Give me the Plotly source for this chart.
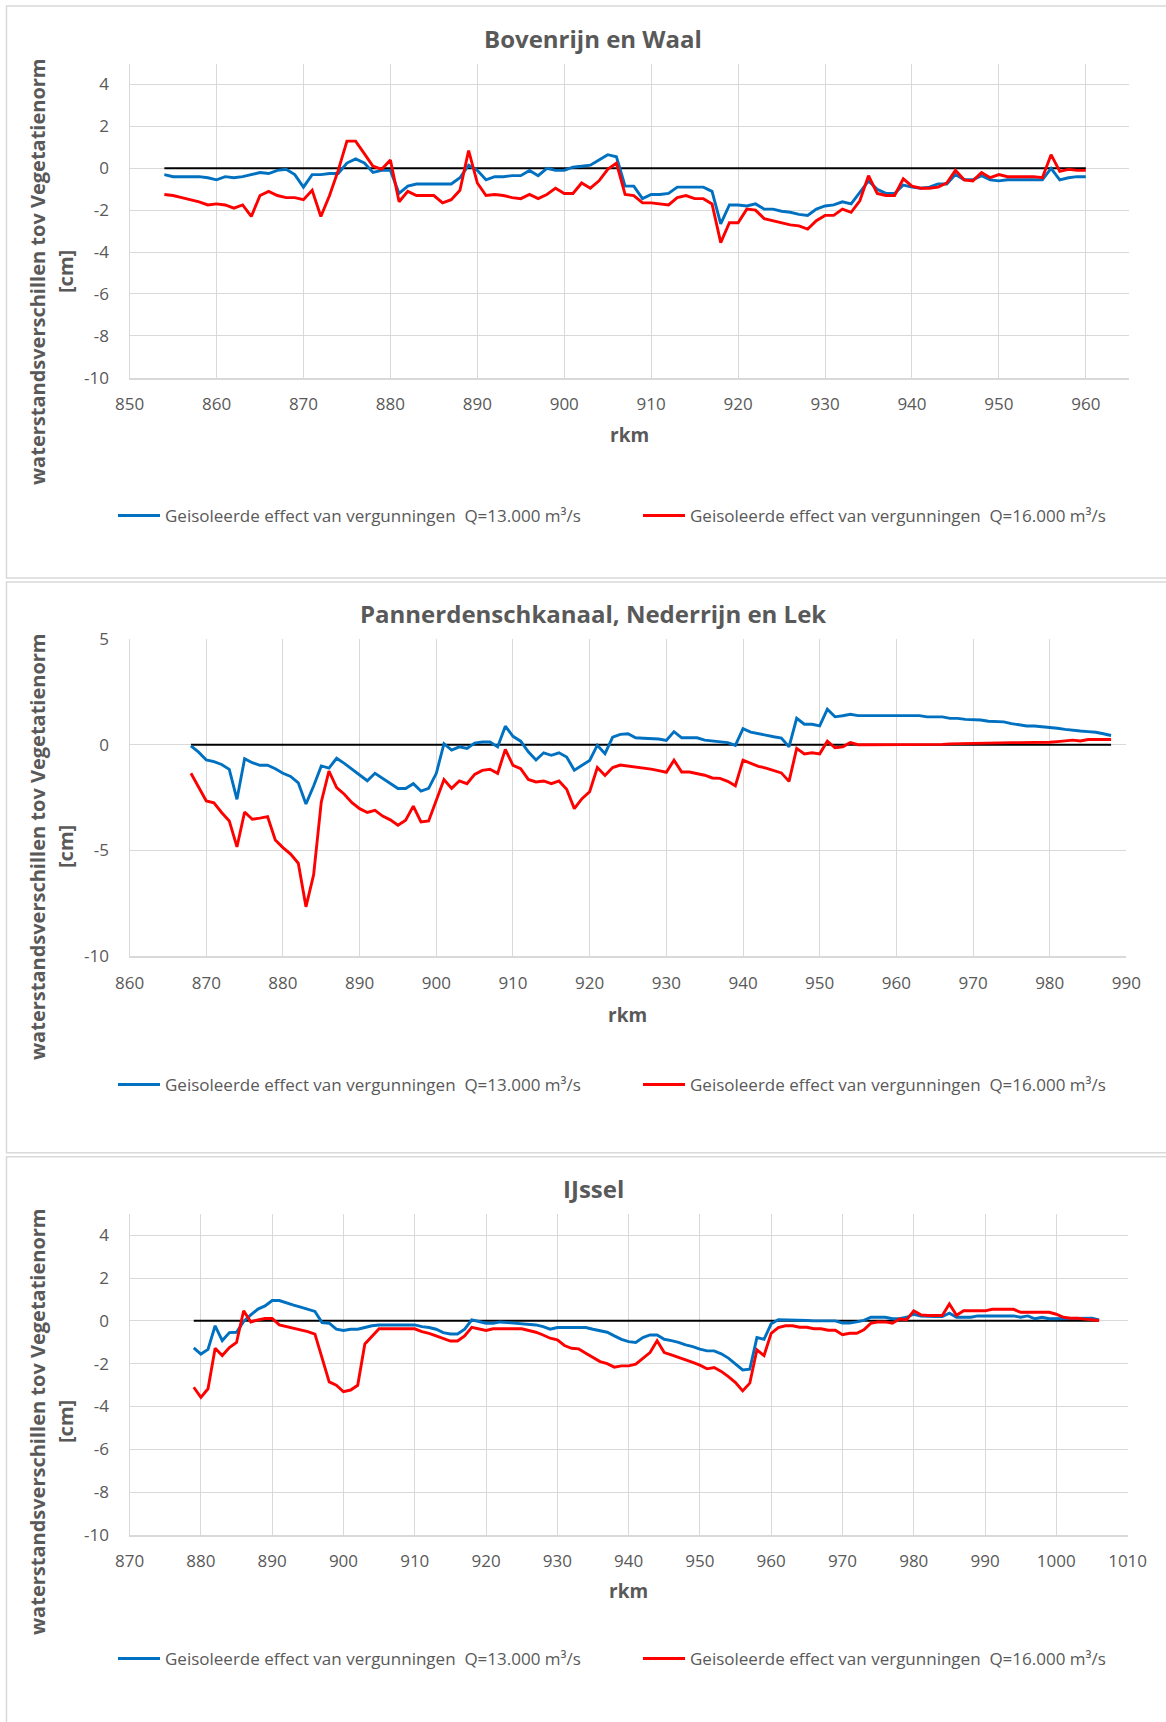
import plotly.graph_objects as go

W, H = 1166, 1722

# ---- data ----
# Bovenrijn en Waal, rkm 854..960
km_waal = list(range(854, 961))
waal_q13 = [
    -0.3, -0.4, -0.4, -0.4, -0.4, -0.45,                               # 854-859
    -0.55, -0.4, -0.45, -0.4, -0.3, -0.2, -0.25, -0.1, -0.05, -0.3,    # 860-869
    -0.9, -0.3, -0.3, -0.25, -0.25, 0.25, 0.45, 0.25, -0.2, -0.1,      # 870-879
    -0.1, -1.2, -0.85, -0.75, -0.75, -0.75, -0.75, -0.75, -0.45, 0.15, # 880-889
    -0.1, -0.55, -0.4, -0.4, -0.35, -0.35, -0.1, -0.35, 0.0, -0.1,     # 890-899
    -0.1, 0.05, 0.1, 0.15, 0.4, 0.65, 0.55, -0.85, -0.85, -1.45,       # 900-909
    -1.25, -1.25, -1.2, -0.9, -0.9, -0.9, -0.9, -1.1, -2.65, -1.75,    # 910-919
    -1.75, -1.8, -1.7, -1.95, -1.95, -2.05, -2.1, -2.2, -2.25, -1.95,  # 920-929
    -1.8, -1.75, -1.6, -1.7, -1.15, -0.6, -1.0, -1.2, -1.2, -0.8,      # 930-939
    -0.9, -0.95, -0.9, -0.75, -0.75, -0.3, -0.55, -0.55, -0.35, -0.55, # 940-949
    -0.6, -0.55, -0.55, -0.55, -0.55, -0.55, 0.0, -0.55, -0.45, -0.4,  # 950-959
    -0.4,                                                              # 960
]
waal_q16 = [
    -1.25, -1.3, -1.4, -1.5, -1.6, -1.75,                              # 854-859
    -1.7, -1.75, -1.9, -1.75, -2.3, -1.3, -1.1, -1.3, -1.4, -1.4,      # 860-869
    -1.5, -1.05, -2.3, -1.3, -0.1, 1.3, 1.3, 0.7, 0.1, -0.05,          # 870-879
    0.4, -1.6, -1.1, -1.3, -1.3, -1.3, -1.65, -1.5, -1.05, 0.85,       # 880-889
    -0.7, -1.3, -1.25, -1.3, -1.4, -1.45, -1.25, -1.45, -1.25, -0.95,  # 890-899
    -1.2, -1.2, -0.7, -0.95, -0.6, -0.05, 0.25, -1.25, -1.3, -1.65,    # 900-909
    -1.65, -1.7, -1.75, -1.4, -1.3, -1.45, -1.45, -1.7, -3.55, -2.6,   # 910-919
    -2.6, -1.95, -2.0, -2.4, -2.5, -2.6, -2.7, -2.75, -2.9, -2.5,      # 920-929
    -2.25, -2.25, -1.95, -2.1, -1.55, -0.35, -1.2, -1.3, -1.3, -0.5,   # 930-939
    -0.85, -0.95, -0.95, -0.9, -0.7, -0.1, -0.55, -0.6, -0.2, -0.45,   # 940-949
    -0.3, -0.4, -0.4, -0.4, -0.4, -0.45, 0.65, -0.15, -0.05, -0.1,     # 950-959
    -0.1,                                                              # 960
]

# Pannerdenschkanaal, Nederrijn en Lek, rkm 868..988
km_lek = list(range(868, 989))
lek_q13 = [
    -0.05, -0.35,                                                      # 868-869
    -0.72, -0.8, -0.93, -1.16, -2.58, -0.66, -0.85, -0.97, -0.97, -1.13,  # 870-879
    -1.35, -1.5, -1.8, -2.8, -1.95, -1.0, -1.1, -0.64, -0.88, -1.16,   # 880-889
    -1.45, -1.7, -1.35, -1.6, -1.84, -2.07, -2.07, -1.84, -2.19, -2.06,  # 890-899
    -1.35, 0.05, -0.25, -0.1, -0.17, 0.08, 0.13, 0.13, -0.1, 0.88,     # 900-909
    0.4, 0.17, -0.33, -0.72, -0.38, -0.5, -0.38, -0.58, -1.2, -0.97,   # 910-919
    -0.74, -0.02, -0.42, 0.36, 0.49, 0.52, 0.33, 0.31, 0.3, 0.27,      # 920-929
    0.2, 0.62, 0.33, 0.33, 0.33, 0.22, 0.17, 0.14, 0.1, -0.03,         # 930-939
    0.76, 0.6, 0.52, 0.44, 0.38, 0.32, -0.1, 1.25, 0.97, 0.97,         # 940-949
    0.89, 1.68, 1.32, 1.37, 1.44, 1.38, 1.38, 1.38, 1.38, 1.38,        # 950-959
    1.38, 1.38, 1.38, 1.38, 1.32, 1.32, 1.32, 1.25, 1.25, 1.2,         # 960-969
    1.19, 1.17, 1.11, 1.11, 1.08, 1.0, 0.94, 0.89, 0.89, 0.86,         # 970-979
    0.81, 0.78, 0.73, 0.68, 0.65, 0.62, 0.59, 0.52, 0.44,              # 980-988
]
lek_q16 = [
    -1.35, -2.03,                                                      # 868-869
    -2.66, -2.74, -3.2, -3.6, -4.83, -3.18, -3.52, -3.47, -3.4, -4.5,  # 870-879
    -4.86, -5.17, -5.6, -7.66, -6.15, -2.7, -1.24, -2.03, -2.34, -2.74,  # 880-889
    -3.02, -3.2, -3.1, -3.37, -3.55, -3.8, -3.57, -2.9, -3.65, -3.6,   # 890-899
    -2.66, -1.64, -2.06, -1.71, -1.84, -1.4, -1.21, -1.16, -1.35, -0.22,  # 900-909
    -0.97, -1.13, -1.64, -1.76, -1.71, -1.84, -1.71, -2.1, -3.02, -2.55,  # 910-919
    -2.22, -1.08, -1.45, -1.08, -0.96, -1.0, -1.05, -1.1, -1.15, -1.22,  # 920-929
    -1.3, -0.73, -1.29, -1.29, -1.37, -1.44, -1.57, -1.59, -1.73, -1.94,  # 930-939
    -0.73, -0.89, -1.02, -1.1, -1.21, -1.33, -1.73, -0.17, -0.43, -0.38,  # 940-949
    -0.43, 0.17, -0.14, -0.1, 0.1, 0.0, 0.0, 0.0, 0.0, 0.0,            # 950-959
    0.0, 0.0, 0.0, 0.0, 0.0, 0.0, 0.02, 0.04, 0.05, 0.05,              # 960-969
    0.05, 0.08, 0.1, 0.08, 0.1, 0.1, 0.1, 0.1, 0.1, 0.1,               # 970-979
    0.12, 0.15, 0.17, 0.22, 0.18, 0.25, 0.25, 0.25, 0.25,              # 980-988
]

# IJssel, rkm 879..1006
km_ijssel = list(range(879, 1007))
ijssel_q13 = [
    -1.26,                                                             # 879
    -1.55, -1.33, -0.23, -0.92, -0.55, -0.53, -0.03, 0.28, 0.55, 0.7,  # 880-889
    0.95, 0.95, 0.83, 0.73, 0.64, 0.55, 0.44, -0.08, -0.11, -0.39,     # 890-899
    -0.45, -0.39, -0.39, -0.31, -0.23, -0.19, -0.19, -0.19, -0.19, -0.19,  # 900-909
    -0.19, -0.27, -0.31, -0.39, -0.55, -0.61, -0.61, -0.39, 0.05, -0.03,   # 910-919
    -0.11, -0.11, -0.05, -0.08, -0.11, -0.14, -0.19, -0.19, -0.27, -0.39,  # 920-929
    -0.31, -0.31, -0.31, -0.31, -0.31, -0.39, -0.45, -0.53, -0.7, -0.86,   # 930-939
    -0.97, -1.01, -0.78, -0.66, -0.66, -0.86, -0.92, -1.0, -1.12, -1.2,    # 940-949
    -1.32, -1.4, -1.4, -1.54, -1.74, -2.0, -2.29, -2.26, -0.78, -0.86,     # 950-959
    -0.14, 0.05, 0.05, 0.05, 0.05, 0.02, 0.0, 0.0, 0.0, 0.0,           # 960-969
    -0.1, -0.1, -0.05, 0.02, 0.17, 0.17, 0.17, 0.1, 0.1, 0.17,         # 970-979
    0.31, 0.23, 0.2, 0.2, 0.2, 0.36, 0.17, 0.17, 0.17, 0.23,           # 980-989
    0.23, 0.23, 0.23, 0.23, 0.23, 0.17, 0.23, 0.1, 0.17, 0.1,          # 990-999
    0.1, 0.12, 0.12, 0.12, 0.12, 0.12, 0.05,                           # 1000-1006
]
ijssel_q16 = [
    -3.1,                                                              # 879
    -3.57, -3.17, -1.28, -1.62, -1.25, -1.01, 0.47, -0.05, 0.05, 0.11, # 880-889
    0.11, -0.19, -0.27, -0.34, -0.42, -0.5, -0.62, -1.79, -2.85, -3.0, # 890-899
    -3.31, -3.23, -3.01, -1.08, -0.73, -0.37, -0.37, -0.37, -0.37, -0.37,  # 900-909
    -0.37, -0.5, -0.58, -0.7, -0.81, -0.94, -0.94, -0.7, -0.3, -0.37,  # 910-919
    -0.45, -0.37, -0.37, -0.37, -0.37, -0.37, -0.45, -0.53, -0.66, -0.81,  # 920-929
    -0.89, -1.15, -1.28, -1.31, -1.51, -1.7, -1.9, -2.0, -2.16, -2.1,  # 930-939
    -2.1, -2.02, -1.74, -1.48, -0.93, -1.48, -1.59, -1.7, -1.82, -1.94,  # 940-949
    -2.07, -2.24, -2.18, -2.36, -2.6, -2.88, -3.27, -2.91, -1.35, -1.62,  # 950-959
    -0.58, -0.31, -0.23, -0.23, -0.3, -0.3, -0.37, -0.37, -0.44, -0.44,   # 960-969
    -0.65, -0.58, -0.58, -0.42, -0.11, -0.05, -0.05, -0.11, 0.09, 0.05,   # 970-979
    0.47, 0.28, 0.25, 0.25, 0.25, 0.79, 0.26, 0.47, 0.47, 0.47,        # 980-989
    0.47, 0.54, 0.54, 0.54, 0.54, 0.4, 0.4, 0.4, 0.4, 0.4,             # 990-999
    0.31, 0.17, 0.12, 0.12, 0.08, 0.05, 0.02,                          # 1000-1006
]

titles = ["Bovenrijn en Waal", "Pannerdenschkanaal, Nederrijn en Lek", "IJssel"]
series_names = [
    "Geisoleerde effect van vergunningen  Q=13.000 m³/s",
    "Geisoleerde effect van vergunningen  Q=16.000 m³/s",
]
x_ranges = [(850, 965), (860, 990), (870, 1010)]
y_ticks = [
    [-10, -8, -6, -4, -2, 0, 2, 4],
    [-10, -5, 0, 5],
    [-10, -8, -6, -4, -2, 0, 2, 4],
]

panels = [
    (km_waal, waal_q13, waal_q16),
    (km_lek, lek_q13, lek_q16),
    (km_ijssel, ijssel_q13, ijssel_q16),
]

# ---- layout geometry in pixels (top-down) ----
plot_px = [  # x0, x1, ytop, ybottom
    (129.6, 1129.3, 63.6, 377.7),
    (129.6, 1126.4, 639.0, 956.3),
    (129.6, 1127.6, 1213.8, 1535.0),
]
box_px = [(6, 578), (582, 1152.7), (1156.7, 1740)]
title_y = [38.4, 613.8, 1188.0]
rkm_y = [434.8, 1014.5, 1591.0]
ytitle_y = [272, 847, 1422]
legend_y = [516, 1085, 1659]

GREY = "#595959"
GRID = "#d9d9d9"
BLUE = "#0070C0"
RED = "#FF0000"
FONT = "Open Sans"


def px_x(v):
    return v / W


def px_y(v):
    return 1 - v / H


fig = go.Figure()
layout = dict(
    width=W, height=H,
    margin=dict(l=0, r=0, t=0, b=0, autoexpand=False),
    paper_bgcolor="white", plot_bgcolor="white",
    font=dict(family=FONT, color=GREY),
    shapes=[], annotations=[],
)

for i, (km, q13, q16) in enumerate(panels):
    n = "" if i == 0 else str(i + 1)
    xa, ya = "x" + n, "y" + n
    leg = "legend" + n

    # black reference line at 0, from first to last rkm
    fig.add_trace(go.Scatter(
        x=[km[0], km[-1]], y=[0, 0], xaxis=xa, yaxis=ya,
        mode="lines", line=dict(color="black", width=2),
        showlegend=False, hoverinfo="skip",
    ))
    fig.add_trace(go.Scatter(
        x=km, y=q13, xaxis=xa, yaxis=ya, name=series_names[0],
        mode="lines", line=dict(color=BLUE, width=2.9), legend=leg,
    ))
    fig.add_trace(go.Scatter(
        x=km, y=q16, xaxis=xa, yaxis=ya, name=series_names[1],
        mode="lines", line=dict(color=RED, width=2.9), legend=leg,
    ))

    x0, x1, yt, yb = plot_px[i]
    layout["xaxis" + n] = dict(
        domain=[px_x(x0), px_x(x1)], anchor=ya,
        range=list(x_ranges[i]), tick0=x_ranges[i][0], dtick=10,
        showgrid=True, gridcolor=GRID, gridwidth=1.4, zeroline=False,
        showline=True, linecolor=GRID, linewidth=1.6,
        ticks="", ticklabelstandoff=10,
        tickfont=dict(size=17, color=GREY, family=FONT),
    )
    layout["yaxis" + n] = dict(
        domain=[px_y(yb), px_y(yt)], anchor=xa,
        range=[-10, 5], tickmode="array",
        tickvals=y_ticks[i], ticktext=[str(v) for v in y_ticks[i]],
        showgrid=True, gridcolor=GRID, gridwidth=1.4, zeroline=False,
        showline=True, linecolor=GRID, linewidth=1.4,
        ticks="", ticklabelstandoff=16,
        tickfont=dict(size=17, color=GREY, family=FONT),
    )
    layout[leg] = dict(
        orientation="h", x=px_x(113), xanchor="left",
        y=px_y(legend_y[i]), yanchor="middle",
        entrywidth=468, entrywidthmode="pixels", itemwidth=42,
        font=dict(size=17, color=GREY, family=FONT),
        bgcolor="rgba(0,0,0,0)", traceorder="normal",
    )

    # chart box
    layout["shapes"].append(dict(
        type="rect", xref="paper", yref="paper",
        x0=px_x(6.5), x1=1.05, y0=px_y(box_px[i][1]), y1=px_y(box_px[i][0]),
        line=dict(color=GRID, width=1.5), fillcolor="rgba(0,0,0,0)", layer="below",
    ))
    # chart title
    layout["annotations"].append(dict(
        text="<b>%s</b>" % titles[i], xref="paper", yref="paper",
        x=px_x(593), y=px_y(title_y[i]), xanchor="center", yanchor="middle",
        showarrow=False, font=dict(size=24, color=GREY, family=FONT),
    ))
    # x axis title
    layout["annotations"].append(dict(
        text="<b>rkm</b>", xref="paper", yref="paper",
        x=px_x((x0 + x1) / 2), y=px_y(rkm_y[i]), xanchor="center", yanchor="middle",
        showarrow=False, font=dict(size=19, color=GREY, family=FONT),
    ))
    # y axis title (two lines)
    for txt, xp in [("waterstandsverschillen tov Vegetatienorm", 37), ("[cm]", 65)]:
        layout["annotations"].append(dict(
            text="<b>%s</b>" % txt, xref="paper", yref="paper",
            x=px_x(xp), y=px_y(ytitle_y[i]), xanchor="center", yanchor="middle",
            textangle=-90, showarrow=False,
            font=dict(size=20, color=GREY, family=FONT),
        ))

fig.update_layout(**layout)
fig.write_html(
    "out.html",
    config={"displayModeBar": False},
    post_script="document.body.style.margin='0px';"
                "document.documentElement.style.overflow='hidden';",
)
